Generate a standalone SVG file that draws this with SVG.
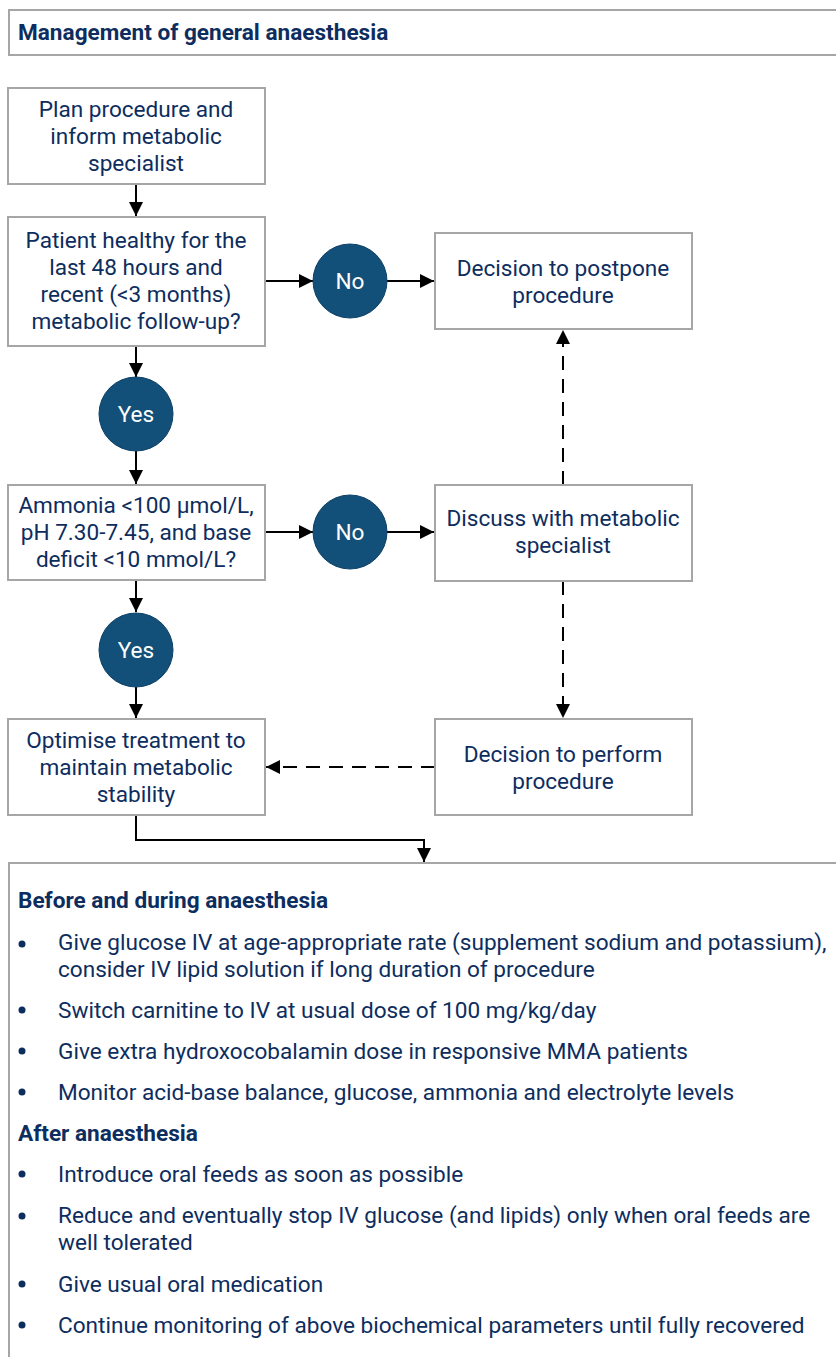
<svg xmlns="http://www.w3.org/2000/svg" width="836" height="1357" viewBox="0 0 836 1357">
<defs>
<style>
.box{fill:#fff;stroke:#a6a6a6;stroke-width:2}
.t{font-family:Roboto,"Liberation Sans",sans-serif;font-size:22.6px;fill:#0d2d5e;text-anchor:middle}
.h{font-family:Roboto,"Liberation Sans",sans-serif;font-size:22.6px;font-weight:bold;fill:#0d2d5e}
.b{font-family:Roboto,"Liberation Sans",sans-serif;font-size:22.6px;fill:#0d2d5e}
.c{fill:#12507a;stroke:#0e4066;stroke-width:1}
.ct{font-family:Roboto,"Liberation Sans",sans-serif;font-size:22.6px;fill:#fff;text-anchor:middle}
.ln{fill:none;stroke:#000;stroke-width:2}
.dash{stroke-dasharray:14 9}
</style>
<marker id="ah" viewBox="0 0 10 10" refX="10" refY="5" markerWidth="14" markerHeight="14" markerUnits="userSpaceOnUse" orient="auto">
<path d="M0,0 L10,5 L0,10 z" fill="#000"/>
</marker>
</defs>
<rect width="836" height="1357" fill="#fff"/>

<g id="header">
<rect class="box" x="9" y="10" width="830" height="45"/>
<text class="h" x="18" y="40">Management of general anaesthesia</text>
</g>

<g id="connectors">
<line class="ln" x1="136" y1="184" x2="136" y2="216" marker-end="url(#ah)"/>
<line class="ln" x1="265" y1="281" x2="313" y2="281" marker-end="url(#ah)"/>
<line class="ln" x1="387" y1="281" x2="434" y2="281" marker-end="url(#ah)"/>
<line class="ln" x1="136" y1="346" x2="136" y2="377" marker-end="url(#ah)"/>
<line class="ln" x1="136" y1="451" x2="136" y2="484" marker-end="url(#ah)"/>
<line class="ln" x1="265" y1="532" x2="313" y2="532" marker-end="url(#ah)"/>
<line class="ln" x1="387" y1="532" x2="434" y2="532" marker-end="url(#ah)"/>
<line class="ln dash" x1="563" y1="485" x2="563" y2="330" marker-end="url(#ah)"/>
<line class="ln dash" x1="563" y1="581" x2="563" y2="718" marker-end="url(#ah)"/>
<line class="ln" x1="136" y1="580" x2="136" y2="612" marker-end="url(#ah)"/>
<line class="ln" x1="136" y1="687" x2="136" y2="718" marker-end="url(#ah)"/>
<line class="ln dash" x1="435" y1="767" x2="266" y2="767" marker-end="url(#ah)"/>
<polyline class="ln" points="136,815 136,840 424,840 424,862" marker-end="url(#ah)"/>
</g>

<g id="plan">
<rect class="box" x="8" y="88" width="257" height="96"/>
<text class="t" x="136" y="117">Plan procedure and</text>
<text class="t" x="136" y="144">inform metabolic</text>
<text class="t" x="136" y="171">specialist</text>
</g>

<g id="healthy">
<rect class="box" x="8" y="217" width="257" height="129"/>
<text class="t" x="136" y="248">Patient healthy for the</text>
<text class="t" x="136" y="275">last 48 hours and</text>
<text class="t" x="136" y="302">recent (&lt;3 months)</text>
<text class="t" x="136" y="329">metabolic follow-up?</text>
</g>

<g id="no1">
<circle class="c" cx="350" cy="281" r="37"/>
<text class="ct" x="350" y="289">No</text>
</g>

<g id="postpone">
<rect class="box" x="435" y="233" width="257" height="96"/>
<text class="t" x="563" y="276">Decision to postpone</text>
<text class="t" x="563" y="303">procedure</text>
</g>

<g id="yes1">
<circle class="c" cx="136" cy="414" r="37"/>
<text class="ct" x="136" y="422">Yes</text>
</g>

<g id="ammonia">
<rect class="box" x="8" y="485" width="257" height="95"/>
<text class="t" x="136" y="513">Ammonia &lt;100 µmol/L,</text>
<text class="t" x="136" y="540">pH 7.30-7.45, and base</text>
<text class="t" x="136" y="567">deficit &lt;10 mmol/L?</text>
</g>

<g id="no2">
<circle class="c" cx="350" cy="532" r="37"/>
<text class="ct" x="350" y="540">No</text>
</g>

<g id="discuss">
<rect class="box" x="435" y="485" width="257" height="96"/>
<text class="t" x="563" y="526">Discuss with metabolic</text>
<text class="t" x="563" y="553">specialist</text>
</g>

<g id="yes2">
<circle class="c" cx="136" cy="650" r="37"/>
<text class="ct" x="136" y="658">Yes</text>
</g>

<g id="optimise">
<rect class="box" x="8" y="719" width="257" height="96"/>
<text class="t" x="136" y="748">Optimise treatment to</text>
<text class="t" x="136" y="775">maintain metabolic</text>
<text class="t" x="136" y="802">stability</text>
</g>

<g id="perform">
<rect class="box" x="435" y="719" width="257" height="96"/>
<text class="t" x="563" y="762">Decision to perform</text>
<text class="t" x="563" y="789">procedure</text>
</g>

<g id="details">
<rect class="box" x="9" y="863" width="840" height="510"/>
<text class="h" x="18" y="908">Before and during anaesthesia</text>
<g class="b">
<circle cx="22" cy="944" r="3.5" fill="#0d2d5e"/>
<text x="58" y="950">Give glucose IV at age-appropriate rate (supplement sodium and potassium),</text>
<text x="58" y="977">consider IV lipid solution if long duration of procedure</text>
<circle cx="22" cy="1010" r="3.5" fill="#0d2d5e"/>
<text x="58" y="1018">Switch carnitine to IV at usual dose of 100 mg/kg/day</text>
<circle cx="22" cy="1051" r="3.5" fill="#0d2d5e"/>
<text x="58" y="1059">Give extra hydroxocobalamin dose in responsive MMA patients</text>
<circle cx="22" cy="1092" r="3.5" fill="#0d2d5e"/>
<text x="58" y="1100">Monitor acid-base balance, glucose, ammonia and electrolyte levels</text>
</g>
<text class="h" x="18" y="1141">After anaesthesia</text>
<g class="b">
<circle cx="22" cy="1174" r="3.5" fill="#0d2d5e"/>
<text x="58" y="1182">Introduce oral feeds as soon as possible</text>
<circle cx="22" cy="1216" r="3.5" fill="#0d2d5e"/>
<text x="58" y="1223">Reduce and eventually stop IV glucose (and lipids) only when oral feeds are</text>
<text x="58" y="1250">well tolerated</text>
<circle cx="22" cy="1284" r="3.5" fill="#0d2d5e"/>
<text x="58" y="1292">Give usual oral medication</text>
<circle cx="22" cy="1325" r="3.5" fill="#0d2d5e"/>
<text x="58" y="1333">Continue monitoring of above biochemical parameters until fully recovered</text>
</g>
</g>
</svg>
